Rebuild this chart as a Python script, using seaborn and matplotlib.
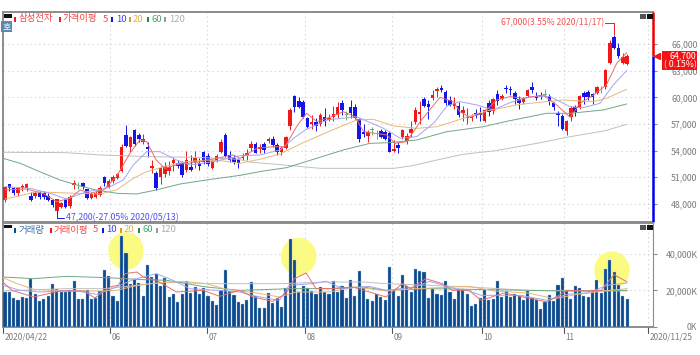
from matplotlib.patches import Ellipse, Rectangle
import matplotlib.pyplot as plt
import numpy as np
import pandas as pd
import seaborn as sns

W, H = 700, 355

OPEN = [48440, 50200, 49760, 49270, 49760, 49760, 48930, 48930, 49270, 49200, 48900, 48440, 47240, 47690, 48440,
        47800, 50130, 50100, 50320, 49640, 48700, 48800, 49000, 51070, 49860, 50580, 50880, 51700, 55770, 54380,
        56300, 55770, 55020, 54450, 52050, 51450, 51070, 51370, 51750, 52580, 52580, 52580, 51820, 52200, 52690,
        52580, 53820, 53450, 52050, 52840, 53900, 55770, 53500, 53140, 53030, 53140, 53500, 54340, 54760, 54150,
        54760, 55100, 55280, 54680, 53890, 54270, 56790, 60210, 59640, 59460, 57730, 57050, 57240, 57010, 57840,
        57500, 57840, 58030, 59420, 58030, 58890, 58970, 57540, 56150, 55660, 56340, 55960, 56220, 56070, 56030,
        53970, 54640, 55510, 55060, 55960, 57280, 58100, 59790, 59270, 59980, 60770, 61070, 60590, 59720, 59040,
        59080, 58220, 57650, 57650, 58220, 58220, 57390, 59340, 58520, 60400, 59830, 61040, 60920, 60550, 59830,
        59460, 60170, 61150, 60210, 60280, 60280, 60170, 59340, 58220, 57950, 56260, 57770, 58890, 58790, 60550,
        60660, 60400, 60550, 60930, 61150, 63850, 66860, 65620, 63850, 63780]
CLOSE = [49940, 49760, 49270, 49830, 50060, 50200, 48440, 49270, 48740, 48740, 48440, 47880, 48550, 48060, 47690,
         48800, 50320, 50100, 49860, 48630, 49120, 49270, 49830, 50320, 50620, 51070, 51370, 54450, 54530, 55500,
         54720, 55300, 55280, 54190, 52320, 49760, 52080, 52320, 52200, 52950, 52320, 51260, 52950, 51820, 53220,
         52320, 52690, 52510, 52840, 53450, 55020, 53400, 52950, 52690, 52580, 53330, 53700, 54720, 53780, 54380,
         54080, 55280, 54640, 53890, 54270, 55580, 58590, 58970, 58970, 57840, 56710, 57200, 56790, 57990, 57390,
         57730, 58100, 58970, 58590, 58030, 58290, 57730, 55320, 55880, 56070, 56340, 55960, 55580, 55320, 53890,
         54150, 54340, 56340, 55660, 56410, 58590, 58400, 59040, 58890, 60280, 60920, 60850, 59340, 59160, 59340,
         58030, 58590, 57840, 57840, 58030, 58030, 58590, 58400, 59790, 59640, 60210, 60960, 60880, 59800, 59340,
         59910, 60850, 60850, 59980, 60100, 60280, 59640, 58890, 58030, 56450, 57350, 58790, 58400, 60170, 60020,
         60100, 60020, 61220, 60930, 63100, 66190, 65550, 64680, 64600, 64700]
HIGH = [50000, 50300, 49940, 49940, 50200, 50400, 49300, 49500, 49500, 49500, 49200, 48500, 48600, 48200, 48600,
        49000, 50700, 50500, 50500, 49700, 49300, 49500, 50000, 51100, 50800, 51300, 51500, 54700, 56900, 55700,
        56500, 56000, 55900, 55000, 53000, 51700, 52300, 52700, 52800, 53300, 53000, 52800, 54000, 53500, 54000,
        53200, 54000, 53700, 53100, 53600, 55300, 56000, 54000, 53500, 53200, 53700, 54200, 55100, 55000, 54700,
        55000, 55500, 55700, 54900, 54500, 55700, 58800, 60300, 60000, 59700, 57800, 58000, 57700, 58200, 58800,
        58100, 59000, 59500, 59700, 58500, 59700, 59300, 57700, 57000, 56300, 56700, 56300, 56400, 56300, 56200,
        55200, 55000, 56500, 56000, 57300, 58900, 59600, 60000, 59700, 60800, 61200, 61400, 60800, 60200, 60000,
        59500, 59000, 58800, 58100, 58700, 58900, 58700, 59700, 59900, 60900, 60400, 61400, 61300, 60700, 60200,
        60000, 61000, 61700, 60600, 60600, 61000, 60400, 59500, 58500, 58100, 57500, 59000, 59100, 60300, 60700,
        60900, 60500, 61300, 61300, 63200, 66500, 67000, 66200, 65000, 64900]
LOW = [48250, 49500, 49000, 48900, 49500, 49400, 48300, 48700, 48600, 48600, 48300, 47700, 47200, 47500, 47500,
       47500, 49700, 49700, 49700, 48500, 48600, 48700, 48900, 50000, 49800, 50400, 50800, 51600, 54400, 53900,
       54500, 55000, 54800, 53300, 51500, 49600, 50300, 51000, 51300, 51700, 52000, 51000, 51600, 51700, 52000,
       51800, 52500, 52300, 51900, 52700, 53700, 53300, 52700, 52500, 52000, 52900, 53000, 54000, 53700, 53700,
       53700, 54900, 54400, 53500, 53500, 54200, 56300, 58400, 58800, 57700, 56600, 56500, 56200, 56800, 56800,
       57400, 57400, 57700, 58000, 57500, 57700, 57600, 55000, 55500, 55000, 55800, 55300, 55400, 55200, 53800,
       53800, 53700, 55300, 54800, 55500, 57000, 57000, 58900, 57600, 59700, 60100, 60600, 59200, 59000, 58700,
       57800, 57300, 57000, 57300, 57700, 57300, 57200, 57900, 58100, 59200, 59700, 60500, 60300, 59300, 58700,
       59300, 60100, 60500, 59700, 59800, 60000, 59200, 58600, 56800, 56300, 55800, 57400, 57900, 58700, 59300,
       59700, 59300, 60400, 60500, 61000, 63800, 65500, 64500, 63800, 63700]

VOLUME = [19090, 19090, 15820, 14540, 16360, 16000, 26360, 17820, 14360, 15270, 16730, 23630, 20540, 19090, 19090,
          20000, 25270, 15090, 15090, 20000, 15090, 15820, 19630, 31270, 27630, 16910, 14180, 49450, 40540, 23630,
          26000, 24180, 16910, 33630, 27270, 29090, 22180, 26900, 16180, 18180, 13820, 18180, 24900, 18540, 21820,
          17820, 21450, 16910, 14360, 11820, 20180, 30900, 19630, 17270, 13640, 12360, 14540, 24540, 16730, 10360,
          10540, 18540, 13090, 16000, 10910, 21270, 48180, 36360, 19090, 22180, 21090, 19630, 17820, 21820, 19090,
          17820, 25090, 19090, 22540, 15820, 25450, 16910, 30540, 21270, 15450, 14180, 17820, 16360, 14540, 32720,
          20000, 16910, 28540, 22360, 19090, 31820, 30540, 30000, 16000, 20910, 18180, 17270, 25270, 19090, 15450,
          20910, 20910, 17820, 11450, 12730, 16000, 20000, 14910, 15090, 24900, 16360, 19450, 16360, 18180, 16730,
          14540, 19450, 16000, 14540, 9640, 13640, 17270, 14000, 22730, 26900, 20000, 15090, 22180, 21270, 17090,
          16360, 20000, 25820, 18730, 31820, 36360, 30000, 22730, 16730, 15450]

# moving averages as (candle position, value) vertices
MA5_X = [0, 5, 9, 12, 15, 17.4, 19.7, 22.8, 25.8, 28.9, 31.2, 32.8, 35, 37, 40.5, 44.4, 49, 52.9, 54.4, 58.3, 62.1,
         64.8, 67.5, 69.8, 72.2, 75.2, 78.3, 81, 83, 88.4, 90.3, 93, 96.1, 100.7, 103.8, 105.3, 107.6, 110.7, 113.8,
         116.9, 120, 124.6, 127.7, 130.8, 133.1, 136.2, 139.2, 141.6, 143.9]
MA5_Y = [49570, 49680, 49120, 48250, 48630, 49570, 49190, 49570, 51070, 53700, 55210, 55020, 52950, 52010, 52500,
         52690, 53140, 53520, 53140, 54270, 54450, 54450, 56710, 58220, 57280, 57770, 58400, 57840, 56150, 55770,
         54830, 55020, 57280, 60020, 59530, 58400, 57770, 58220, 59720, 60100, 59910, 60280, 59160, 57770, 59340,
         60280, 61410, 63850, 65060]
MA10_X = [0, 5.8, 10.4, 14.3, 18.9, 23.5, 27.4, 29.7, 32.8, 35.9, 39.7, 42.8, 48.2, 54.4, 59, 63.7, 66.8, 69.5, 74.5,
          81.4, 87.6, 91.5, 95.3, 99.2, 102.3, 105.3, 109.2, 113, 116.9, 121.5, 126.1, 130.8, 133.8, 137.7, 140.8,
          143.9]
MA10_Y = [49940, 49760, 49190, 48550, 49380, 49760, 50700, 52390, 53890, 53890, 52950, 52390, 52760, 53440, 53520,
          54080, 55400, 56340, 57460, 57840, 56520, 55400, 55580, 57090, 59040, 59530, 59160, 58590, 59420, 60100,
          60100, 58970, 58850, 59340, 61410, 63030]
MA20_X = [0, 3.5, 7.3, 12, 16.6, 22, 25.8, 29.7, 32.8, 37.4, 42, 46.7, 50.5, 54.4, 59, 63.7, 68.7, 74.5, 81.4, 85.3,
          89.9, 95.3, 100, 106.1, 110.7, 119.2, 125.4, 129.2, 136.2, 139.2, 143.9]
MA20_Y = [48550, 48930, 49380, 49270, 49190, 49120, 49570, 50880, 51640, 52280, 52760, 52950, 52840, 52580, 53030,
          53630, 54830, 56070, 57460, 57540, 56790, 56520, 56710, 57650, 58400, 59230, 59530, 59720, 59530, 59910,
          60920]
MA60_X = [-0.5, 3.5, 8, 12.7, 16.6, 21, 26, 30.5, 35, 40.5, 46.7, 54.4, 59.8, 65.2, 71.4, 78.3, 84.5, 89.1, 95.3,
          102.3, 105.3, 110.7, 116.9, 120.7, 125.4, 130.8, 138.5, 143.9]
MA60_Y = [53140, 52580, 51640, 50700, 50130, 49570, 49190, 49120, 49570, 50240, 50700, 51220, 51710, 52090, 53030,
          54080, 54830, 54910, 55210, 56150, 56340, 56710, 57390, 57760, 58220, 58220, 58590, 59270]
MA120_X = [-0.5, 14, 22, 33, 45, 54, 57, 62, 67, 73, 90, 94, 100, 106, 113.5, 124, 130, 139, 143.9]
MA120_Y = [53820, 53780, 53520, 53330, 53250, 53030, 52690, 52500, 52280, 52010, 52010, 52280, 52950, 53590, 54000,
           54910, 55510, 56260, 56980]

VOL5_X = [-0.5, 1.6, 6.6, 12.8, 18.2, 20.8, 24.3, 26.2, 27.8, 30.5, 32, 35, 39.7, 45.8, 49.7, 54.3, 57.4, 62, 65, 67,
          69.7, 72, 75.8, 80.5, 88.2, 92, 93.9, 97.4, 101.2, 103.5, 107.4, 110.2, 115.5, 125.5, 130.2, 134.8, 138,
          141, 144]
VOL5_Y = [24540, 20000, 16360, 19630, 19630, 15820, 21820, 22730, 29090, 30000, 27270, 25450, 19090, 20000, 16730,
          20000, 16360, 14000, 18180, 26360, 29450, 20910, 20910, 21820, 16360, 23630, 20910, 26360, 23630, 20000,
          20000, 14540, 18540, 13640, 20000, 19630, 20000, 28540, 24540]
VOL10_X = [-0.5, 3.5, 8.2, 15.8, 21.2, 24.3, 26.6, 29.7, 35, 38.9, 42.8, 48.9, 54.3, 58.2, 63.5, 65.8, 71.2, 74.3,
           78.2, 84.3, 88.2, 95, 98.2, 104.3, 107.4, 110.2, 119.4, 125.5, 130.2, 134.8, 139.4, 144]
VOL10_Y = [22730, 20000, 19090, 20000, 17820, 20360, 22730, 25820, 29090, 25450, 20910, 20000, 19090, 16730, 14540,
           22730, 23630, 24900, 20910, 22180, 20000, 21820, 24900, 20910, 19630, 17270, 17270, 14540, 17820, 18540,
           22730, 24000]
VOL20_X = [-0.5, 2.8, 6.6, 14.3, 22, 25.8, 29.7, 33.5, 41.2, 46.6, 51.2, 54.3, 58.2, 63.5, 67.4, 75, 81.2, 88.2, 95,
           107.4, 113.2, 121, 127.2, 132.5, 138.6, 144]
VOL20_Y = [26900, 23630, 20540, 19630, 19630, 20000, 22180, 23630, 24900, 23630, 20540, 19630, 18540, 16360, 19090,
           19090, 21820, 19630, 20910, 22180, 19630, 18540, 15450, 17820, 19630, 20910]
VOL60_X = [-0.5, 6.6, 14.3, 23.5, 32, 37.4, 46.6, 54.3, 59.7, 65.8, 75, 82.8, 88.2, 98.2, 107.4, 117, 128.6, 136.3, 144]
VOL60_Y = [27270, 26360, 27630, 26900, 25820, 25450, 21820, 20000, 20360, 20910, 20910, 21820, 20000, 20910, 20540,
           20180, 19630, 19630, 20000]
VOL120_X = [-0.5, 14, 23.5, 37.4, 46.6, 54.3, 63.5, 75, 82.8, 88.2, 98.2, 107.4, 121, 144]
VOL120_Y = [19630, 20910, 20910, 24540, 23630, 23630, 23630, 24540, 24540, 23630, 22730, 21820, 20000, 19630]

PRICE_TICKS = [48000, 51000, 54000, 57000, 60000, 63000, 66000]
PRICE_LABELS = ["48,000", "51,000", "54,000", "57,000", "60,000", "63,000", "66,000"]
VOLUME_TICKS = [0, 20000, 40000]
VOLUME_LABELS = ["0K", "20,000K", "40,000K"]
MONTH_POS = [24.3, 46.7, 69.5, 89.6, 110.4, 129.4, 148.8]
MONTH_LABELS = ["06", "07", "08", "09", "10", "11", "2020/11/25"]
HIGHLIGHT_POS = [28, 68, 140.5]
HIGHLIGHT_VOL = [41500, 38500, 31000]

RED = "#f01818"
BLUE = "#1414e6"
GRID = "#dcdcdc"
FRAME = "#8c8c8c"
TEXT = "#7a7a7a"
MA_COLORS = {"5": "#e4706c", "10": "#a4a4f5", "20": "#e8b878", "60": "#6fa983", "120": "#c0c0c0"}


def fx(x):
    return x / W


def fy(y):
    return 1 - y / H


def px_axes(fig, left, top, right, bottom):
    return fig.add_axes([fx(left), fy(bottom), (right - left) / W, (bottom - top) / H])


def style_axes(ax, ticks, labels):
    ax.set_xlim(-0.58, 150)
    ax.set_xticks(MONTH_POS)
    ax.yaxis.tick_right()
    ax.set_yticks(ticks)
    ax.set_yticklabels(labels)
    ax.tick_params(axis="y", length=3, width=0.8, color=FRAME, labelsize=6.3, labelcolor=TEXT, pad=29)
    for label in ax.get_yticklabels():
        label.set_ha("right")
    ax.grid(True, color=GRID, linestyle=(0, (1.5, 2.5)), linewidth=0.8)
    ax.set_axisbelow(True)
    ax.set_xlabel("")
    ax.set_ylabel("")
    for side in ["top", "left", "bottom"]:
        ax.spines[side].set_color(FRAME)
        ax.spines[side].set_linewidth(1.4)
    ax.spines["right"].set_color(FRAME)
    ax.spines["right"].set_linewidth(0.8)


def draw_lines(ax, series):
    for key, xs, ys in series:
        sns.lineplot(x=xs, y=ys, ax=ax, color=MA_COLORS[key], linewidth=0.7, sort=False, legend=False, zorder=4)


def draw_legend(fig, y, entries):
    for sq_x, txt_x, txt, color in entries:
        if sq_x is not None:
            fig.add_artist(Rectangle((fx(sq_x - 1), fy(y + 2.5)), 2 / W, 5 / H, transform=fig.transFigure,
                                     color=color, lw=0))
        fig.text(fx(txt_x), fy(y), txt, color=color, fontsize=6.8, ha="left", va="center", alpha=0.8)


def draw_buttons(fig, y):
    fig.add_artist(Rectangle((fx(640), fy(y + 5)), 5.5 / W, 5.5 / H, transform=fig.transFigure, color="#555555", lw=0))
    fig.add_artist(Rectangle((fx(647), fy(y + 5)), 5.5 / W, 5.5 / H, transform=fig.transFigure, color="#111111", lw=0))


def main():
    sns.set_theme(style="white")
    plt.rcParams["font.family"] = ["Noto Sans CJK KR", "DejaVu Sans"]
    plt.rcParams["axes.unicode_minus"] = False

    candles = pd.DataFrame({"open": OPEN, "close": CLOSE, "high": HIGH, "low": LOW})
    candles["pos"] = candles.index
    candles["color"] = np.where(candles["close"] > candles["open"], RED, BLUE)
    candles.loc[candles["close"] == candles["open"], "color"] = MA_COLORS["60"]

    fig = plt.figure(figsize=(W / 100, H / 100), dpi=100, facecolor="white")
    ax = px_axes(fig, 2.5, 12, 653, 222)
    vol_ax = px_axes(fig, 2.5, 223, 653, 327)

    # price panel
    ax.vlines(candles["pos"], candles["low"], candles["high"], colors=candles["color"], linewidth=0.7, zorder=2)
    body = (candles["close"] - candles["open"]).abs().clip(lower=60)
    ax.bar(candles["pos"], body, bottom=candles[["open", "close"]].min(axis=1), width=0.82,
           color=candles["color"], linewidth=0, zorder=3)
    draw_lines(ax, [("120", MA120_X, MA120_Y), ("60", MA60_X, MA60_Y), ("20", MA20_X, MA20_Y),
                    ("10", MA10_X, MA10_Y), ("5", MA5_X, MA5_Y)])
    ax.set_ylim(45958, 69643)
    style_axes(ax, PRICE_TICKS, PRICE_LABELS)
    ax.tick_params(axis="x", length=0, labelbottom=False)
    ax.spines["right"].set_visible(False)
    last = CLOSE[-1]
    ax.vlines(150, last, 69643, colors="#f00000", linewidth=1.8, clip_on=False, zorder=6)
    ax.vlines(150, 45958, last, colors="#0000f0", linewidth=1.8, clip_on=False, zorder=6)
    ax.plot([150.9], [last], marker="<", color=RED, markersize=4.5, clip_on=False, zorder=6)

    # volume panel
    for pos, vol in zip(HIGHLIGHT_POS, HIGHLIGHT_VOL):
        vol_ax.add_patch(Ellipse((pos, vol), 8.2, 20500, facecolor="#fbfa82", edgecolor="none", zorder=1))
    vol_frame = pd.DataFrame({"pos": range(len(VOLUME)), "volume": VOLUME})
    sns.barplot(data=vol_frame, x="pos", y="volume", ax=vol_ax, native_scale=True, width=0.72, color="#0b4a8e",
                saturation=1, edgecolor="#a7c3dc", linewidth=0.25, zorder=3)
    draw_lines(vol_ax, [("120", VOL120_X, VOL120_Y), ("60", VOL60_X, VOL60_Y), ("20", VOL20_X, VOL20_Y),
                        ("10", VOL10_X, VOL10_Y), ("5", VOL5_X, VOL5_Y)])
    vol_ax.set_ylim(0, 56700)
    style_axes(vol_ax, VOLUME_TICKS, VOLUME_LABELS)
    vol_ax.tick_params(axis="x", length=0, labelbottom=False)

    # date ticks below the volume panel
    for pos, label in zip([-0.4] + MONTH_POS, ["2020/04/22"] + MONTH_LABELS):
        vol_ax.plot([pos, pos], [0, -3200], color="#555555", linewidth=0.8, clip_on=False)
        vol_ax.annotate(label, (pos, 0), xytext=(1.2, -7.2), textcoords="offset points", fontsize=5.9,
                        color=TEXT, ha="left", va="center", annotation_clip=False)

    # high and low notes
    ax.plot([12, 12, 13.7], [47200, 46420, 46420], color=BLUE, linewidth=0.7, clip_on=False, zorder=5)
    ax.text(14.1, 46420, "47,200(-27.05% 2020/05/13)", color=BLUE, fontsize=6.3, ha="left", va="center", alpha=0.75)
    ax.plot([139, 141, 141], [68450, 68450, 67200], color=RED, linewidth=0.7, zorder=5)
    ax.text(138.6, 68450, "67,000(3.55% 2020/11/17)", color=RED, fontsize=6.2, ha="right", va="center", alpha=0.75)

    # last price box
    fig.add_artist(Rectangle((fx(661.5), fy(70)), 35.5 / W, 18.5 / H, transform=fig.transFigure, color="#f51212", lw=0))
    fig.text(fx(696), fy(55.5), "64,700", color="white", fontsize=6.3, ha="right", va="center")
    fig.text(fx(696.5), fy(65), "( 0.15%)", color="white", fontsize=6.3, ha="right", va="center")

    # legends and small widgets
    draw_legend(fig, 19, [(15.5, 19, "삼성전자", RED), (59.5, 63, "가격이평", RED), (None, 102.5, "5", RED),
                          (112, 116, "10", BLUE), (129.5, 133, "20", "#e59a1e"), (147.5, 151, "60", "#1f8a4c"),
                          (165, 169, "120", "#9a9a9a")])
    draw_legend(fig, 230, [(15, 19, "거래량", "#0b4a8e"), (50.5, 54, "거래이평", RED), (None, 93, "5", RED),
                           (102.5, 106, "10", BLUE), (120.5, 124, "20", "#e59a1e"), (139, 142.5, "60", "#1f8a4c"),
                           (157, 160.5, "120", "#9a9a9a")])

    fig.add_artist(Rectangle((fx(3.5), fy(17.5)), 8.5 / W, 3.5 / H, transform=fig.transFigure, color="#111111", lw=0))
    fig.add_artist(Rectangle((fx(3.5), fy(228)), 8.5 / W, 3.5 / H, transform=fig.transFigure, color="#111111", lw=0))
    fig.add_artist(Rectangle((fx(1), fy(32)), 11 / W, 11 / H, transform=fig.transFigure, color="#5f86ab", lw=0))
    fig.text(fx(6.5), fy(26.5), "호", color="white", fontsize=6.5, ha="center", va="center")
    draw_buttons(fig, 14)
    draw_buttons(fig, 225)

    fig.savefig("out.png", dpi=100)
    plt.close(fig)


if __name__ == "__main__":
    main()
